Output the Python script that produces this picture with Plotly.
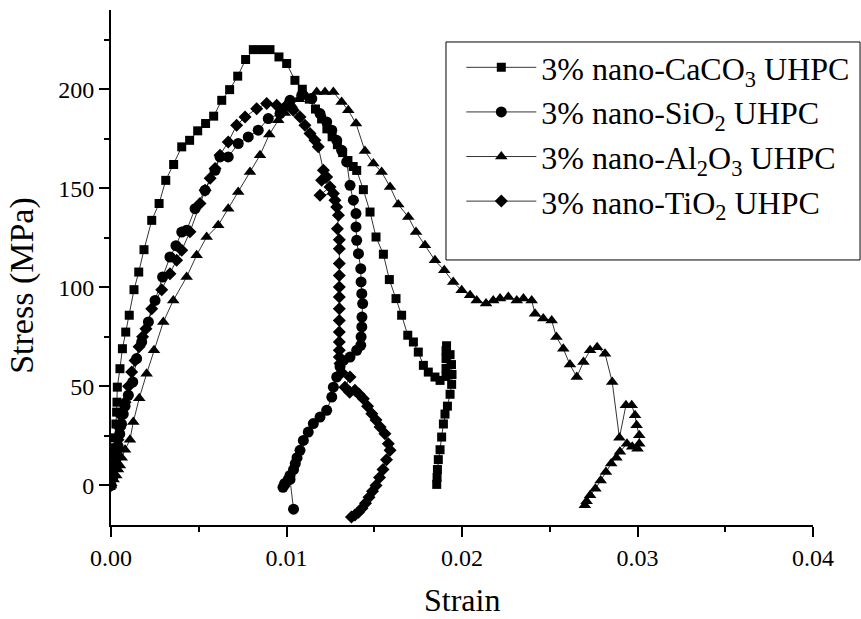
import plotly.graph_objects as go

# Stress-strain curves of UHPC with 3% nano additions: (strain, stress in MPa)
CACO3 = [
    (0, 0), (0.00005, 5), (0.0001, 10), (0.00015, 15), (0.0002, 19), (0.00023, 24),
    (0.00028, 31), (0.00032, 37), (0.00034, 42), (0.00036, 49.6), (0.00051, 58.9),
    (0.00065, 69), (0.00084, 77.4), (0.00104, 85.9), (0.00131, 98.8), (0.00158, 107.7),
    (0.00188, 119), (0.00232, 133.8), (0.00274, 142.3), (0.00312, 154), (0.00357, 162),
    (0.00403, 170.9), (0.00448, 174.2), (0.00494, 179), (0.00539, 182.7), (0.00585, 186.4),
    (0.00631, 194.4), (0.00676, 199.8), (0.00722, 206.6), (0.00767, 215), (0.00811, 220),
    (0.00859, 220), (0.00906, 220), (0.00957, 216.3), (0.01001, 213), (0.01048, 204.5),
    (0.0109, 200), (0.0113, 195), (0.01165, 190), (0.012, 185), (0.0123, 180),
    (0.0126, 176), (0.0129, 172), (0.0132, 168), (0.0135, 164), (0.0138, 161),
    (0.0140, 159), (0.01438, 149.3), (0.01476, 138), (0.0151, 125.4), (0.01552, 116.7),
    (0.01586, 103.9), (0.01624, 94.3), (0.01656, 85.9), (0.01691, 75.8), (0.01723, 72.4),
    (0.01751, 67.3), (0.0178, 60.6), (0.01808, 57.2), (0.01846, 54.7), (0.01875, 53),
    (0.01909, 55), (0.01909, 59), (0.01909, 64), (0.01909, 68), (0.01912, 70.5),
    (0.01932, 66), (0.0194, 61), (0.01943, 56), (0.01941, 51), (0.01932, 46),
    (0.01917, 40), (0.01903, 36), (0.01894, 31), (0.01884, 24.4), (0.01875, 18),
    (0.01865, 13), (0.0186, 8), (0.01858, 4), (0.01856, 0.5),
]

SIO2 = [
    (0, 0), (0.0001, 4), (0.0002, 9), (0.0003, 14), (0.0004, 20), (0.0005, 26),
    (0.0006, 31), (0.0007, 36), (0.0008, 40), (0.00099, 45.5), (0.00124, 52.2),
    (0.00146, 64), (0.00175, 72.4), (0.00213, 82.5), (0.00251, 93.4), (0.00294, 105.2),
    (0.00336, 115.3), (0.0037, 121), (0.00403, 127.9), (0.00431, 128.8), (0.00479, 139.7),
    (0.00536, 149), (0.00593, 159.1), (0.00621, 165.8), (0.00668, 165.8), (0.00725, 172.6),
    (0.00782, 175.9), (0.00839, 179.3), (0.00896, 185.2), (0.00963, 187.7), (0.0102, 194.4),
    (0.01087, 197), (0.01144, 195.3), (0.01191, 187.7), (0.01229, 183.5), (0.01258, 179.3),
    (0.01286, 174.2), (0.01314, 169.2), (0.01343, 163.3), (0.01362, 151.5), (0.01381, 144),
    (0.01396, 137.2), (0.01396, 130.5), (0.014, 123.7), (0.0141, 117), (0.01423, 109.4),
    (0.01425, 102.7), (0.01429, 96.8), (0.01434, 91.8), (0.0143, 85), (0.01429, 80),
    (0.01425, 75), (0.01423, 70.7), (0.014, 68.2), (0.01362, 64.8), (0.01324, 63.1),
    (0.01305, 60), (0.01286, 54.7), (0.01267, 49.6), (0.01258, 44.6), (0.01229, 37.9),
    (0.01191, 34.5), (0.01153, 31.2), (0.01124, 26.9), (0.01096, 22.7), (0.01077, 17.7),
    (0.0106, 14), (0.0105, 11), (0.0104, 8), (0.0102, 5), (0.0101, 3), (0.0099, 0.5),
    (0.0098, -1), (0.0099, 1), (0.0102, 3), (0.0104, -12),
]

AL2O3 = [
    (0, 0), (0.00015, 3), (0.0003, 5), (0.0004, 8), (0.00051, 10), (0.00061, 14),
    (0.0008, 18), (0.00108, 23), (0.00127, 32), (0.00161, 44), (0.00203, 56.4),
    (0.00245, 68.2), (0.00298, 82.5), (0.00355, 93.4), (0.00431, 105.2), (0.00488, 116.2),
    (0.00545, 125.4), (0.00611, 131.3), (0.00668, 139.7), (0.00725, 148.1), (0.00792, 158.2),
    (0.00849, 166.7), (0.00902, 177.2), (0.00953, 184.3), (0.0099, 188), (0.0103, 192),
    (0.0107, 195), (0.0111, 197), (0.01172, 198.6), (0.01219, 198.6), (0.01267, 198.6),
    (0.01314, 193.6), (0.01352, 189.4), (0.01396, 182.7), (0.01447, 168.8), (0.01495, 162.5),
    (0.01542, 158.2), (0.0159, 150.7), (0.01637, 141.8), (0.01694, 135.5), (0.01738, 127.9),
    (0.01789, 121.2), (0.01846, 113.6), (0.01899, 108.6), (0.0195, 102.7), (0.01998, 98.5),
    (0.02046, 96), (0.02084, 93.4), (0.02137, 91.8), (0.02178, 93.4), (0.02217, 94.3),
    (0.02264, 95.1), (0.02312, 93.4), (0.0235, 94.3), (0.02397, 93.4), (0.02416, 86.7),
    (0.02463, 84.2), (0.02511, 83.3), (0.02538, 74.9), (0.02577, 69), (0.02615, 61),
    (0.02654, 54.7), (0.02692, 62.3), (0.0273, 68.2), (0.0277, 69.8), (0.02815, 66.5),
    (0.02856, 52.2), (0.02897, 24), (0.02934, 40.4), (0.02967, 40.4), (0.02986, 35.4),
    (0.02995, 30.3), (0.0301, 25.3), (0.0301, 21), (0.0300, 18.5), (0.0297, 19.5),
    (0.0294, 21), (0.0290, 17), (0.0288, 14), (0.0285, 11), (0.0282, 6.7),
    (0.0279, 2.5), (0.0276, -1.7), (0.0273, -5), (0.0271, -8), (0.0270, -10),
]

TIO2 = [
    (0, 0), (0.0001, 5), (0.0002, 11), (0.0003, 17), (0.0004, 23), (0.0005, 29),
    (0.0006, 35), (0.0008, 42), (0.001, 50), (0.00118, 57.2), (0.00137, 63.1),
    (0.0016, 70), (0.0018, 75), (0.00199, 79.1), (0.00232, 89.2), (0.00289, 98.8),
    (0.00336, 106.9), (0.00374, 113.6), (0.00403, 118.7), (0.0045, 128), (0.00507, 142.3),
    (0.00536, 149), (0.00565, 155), (0.00593, 160), (0.00621, 166.7), (0.00668, 173.4),
    (0.00716, 181.8), (0.00764, 186), (0.0083, 190.2), (0.00887, 192.8), (0.00944, 191.9),
    (0.00991, 191), (0.01039, 189.4), (0.01077, 186), (0.01105, 181.8), (0.01134, 177.6),
    (0.01162, 174.2), (0.01181, 170.9), (0.0121, 159.1), (0.01229, 155.7), (0.012, 154),
    (0.01248, 150.7), (0.01191, 146.5), (0.01267, 147.3), (0.01276, 144), (0.01286, 140.6),
    (0.01296, 136.4), (0.0129, 129.6), (0.01301, 124), (0.01301, 119.5), (0.01301, 112),
    (0.01301, 106), (0.01301, 100.2), (0.01301, 95.1), (0.01301, 89.2), (0.01301, 83.3),
    (0.01301, 77.4), (0.01301, 72.4), (0.01301, 68.2), (0.01301, 64.8), (0.01305, 61.5),
    (0.01315, 57), (0.01362, 54.7), (0.01333, 49.6), (0.0136, 47), (0.0139, 48),
    (0.01414, 46), (0.01438, 43.8), (0.01462, 40), (0.01486, 36.2), (0.0151, 33),
    (0.01533, 29.5), (0.01561, 26.1), (0.0158, 21), (0.0159, 17.7), (0.0157, 13),
    (0.0155, 8), (0.0153, 4), (0.0151, 0), (0.0149, -3), (0.0147, -6), (0.0145, -9),
    (0.0143, -11.5), (0.0141, -13.5), (0.0139, -15), (0.0137, -16),
]

SERIES = [
    ("3% nano-CaCO<sub>3</sub> UHPC", CACO3, "square", 9),
    ("3% nano-SiO<sub>2</sub> UHPC", SIO2, "circle", 11),
    ("3% nano-Al<sub>2</sub>O<sub>3</sub> UHPC", AL2O3, "triangle-up", 11),
    ("3% nano-TiO<sub>2</sub> UHPC", TIO2, "diamond", 10),
]

X_TICKS = [0.0, 0.01, 0.02, 0.03, 0.04]
X_TICK_TEXT = ["0.00", "0.01", "0.02", "0.03", "0.04"]
Y_TICKS = [0, 50, 100, 150, 200]

FONT = "Liberation Serif, Times New Roman, serif"

fig = go.Figure()
for name, pts, symbol, size in SERIES:
    xs = [p[0] for p in pts]
    ys = [p[1] for p in pts]
    fig.add_trace(go.Scatter(
        x=xs, y=ys, name=name, mode="lines+markers",
        line=dict(color="black", width=0.8),
        marker=dict(symbol=symbol, size=size, color="black", line=dict(width=0)),
    ))

axis_common = dict(
    showline=True, linecolor="black", linewidth=2, mirror=False,
    showgrid=False, zeroline=False,
    ticks="outside", ticklen=10, tickwidth=2, tickcolor="black",
    tickfont=dict(family=FONT, size=24, color="black"),
)

fig.update_xaxes(
    range=[0, 0.04], tickvals=X_TICKS, ticktext=X_TICK_TEXT,
    minor=dict(dtick=0.005, tick0=0, ticks="outside", ticklen=5, tickwidth=2, tickcolor="black"),
    **axis_common,
)
fig.update_yaxes(
    range=[-20, 240], tickvals=Y_TICKS,
    minor=dict(dtick=25, tick0=0, ticks="outside", ticklen=5, tickwidth=2, tickcolor="black"),
    **axis_common,
)

fig.add_annotation(
    text="Stress (MPa)", textangle=-90, xref="paper", yref="paper",
    x=-0.127, y=0.466, showarrow=False, xanchor="center", yanchor="middle",
    font=dict(family=FONT, size=34, color="black"),
)
fig.add_annotation(
    text="Strain", xref="paper", yref="paper",
    x=0.5, y=-0.145, showarrow=False, xanchor="center", yanchor="middle",
    font=dict(family=FONT, size=32, color="black"),
)

# Legend frame
fig.add_shape(
    type="rect", xref="paper", yref="paper",
    x0=0.4772, x1=1.067, y0=0.5146, y1=0.9379,
    line=dict(color="black", width=1), fillcolor="white", layer="below",
)

fig.update_layout(
    width=861, height=619,
    margin=dict(l=111, r=48, t=10, b=94, autoexpand=False),
    paper_bgcolor="white", plot_bgcolor="white",
    font=dict(family=FONT, color="black"),
    legend=dict(
        x=0.499, y=0.9417, xanchor="left", yanchor="top",
        bgcolor="rgba(0,0,0,0)", borderwidth=0,
        font=dict(family=FONT, size=32, color="black"),
        itemwidth=70, tracegroupgap=0,
    ),
)

fig.write_html("out.html")
